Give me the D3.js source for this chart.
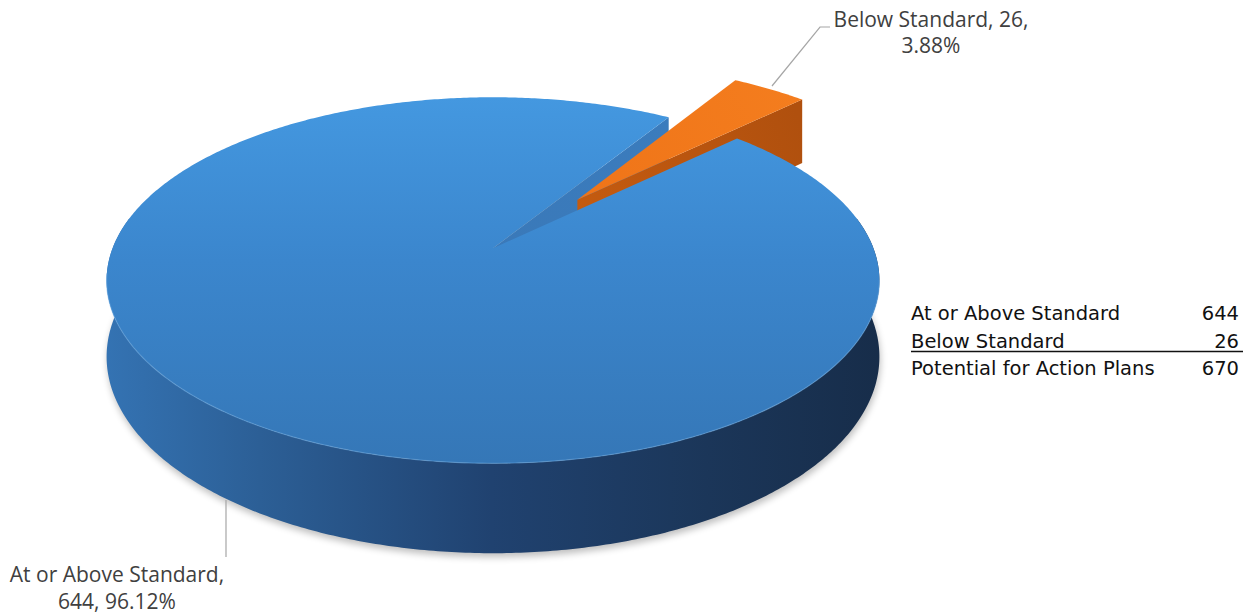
<!DOCTYPE html>
<html>
<head>
<meta charset="utf-8">
<script src="https://cdn.jsdelivr.net/npm/d3@7"></script>
<style>
  html, body { margin: 0; padding: 0; background: #ffffff; }
  svg { display: block; }
</style>
</head>
<body>
<svg id="chart" width="1255" height="615"></svg>
<script>
// Action plan status: two slices of a 3-D pie
const categories = ["At or Above Standard", "Below Standard"];
const values = [644, 26];
const totalLabel = "Potential for Action Plans";
const explodedSlices = [false, true];

const total = d3.sum(values);
const pctFmt = d3.format(".2%");

const svg = d3.select("#chart");
const defs = svg.append("defs");

// ---- perspective view of a unit disc (x right, y up, z toward viewer) ----
// Camera looks horizontally from above the disc, so the walls stay vertical.
const view = {
  cx: 493,          // screen x of the disc axis
  horizon: -766,    // screen y of the horizon line
  focal: 2175,      // focal length in pixels
  dist: 5.717,      // camera distance in disc radii
  height: 2.666,    // camera height above the top face
  depth: 0.195      // thickness of the pie
};
function project(x, y, z) {
  const d = view.dist - z;
  return [view.cx + view.focal * x / d, view.horizon + view.focal * (view.height - y) / d];
}

// radial scale for the disc (radius 0..1)
const radius = d3.scaleLinear().domain([0, 1]).range([0, 1]);
const explode = 0.37;

const pie = d3.pie()
  .sort(null)
  .value(d => d)
  .startAngle(46 * Math.PI / 180)
  .endAngle(46 * Math.PI / 180 + 2 * Math.PI);
const arcs = pie(values);

const line = d3.line();

function discPoint(theta, r, y, off) {
  const rr = radius(r);
  return project(rr * Math.sin(theta) + off[0], y, -rr * Math.cos(theta) + off[1]);
}
function arcPoints(a, b, y, off, n) {
  const pts = [];
  const steps = n || Math.max(8, Math.ceil(Math.abs(b - a) / 0.01));
  for (let i = 0; i <= steps; i++) pts.push(discPoint(a + (b - a) * i / steps, 1, y, off));
  return pts;
}
function offsetFor(arc, i) {
  if (!explodedSlices[i]) return [0, 0];
  const mid = (arc.startAngle + arc.endAngle) / 2;
  return [explode * Math.sin(mid), -explode * Math.cos(mid)];
}

// ---- gradients ----
function linGrad(id, x1, y1, x2, y2, stops) {
  const g = defs.append("linearGradient").attr("id", id)
    .attr("gradientUnits", "userSpaceOnUse")
    .attr("x1", x1).attr("y1", y1).attr("x2", x2).attr("y2", y2);
  stops.forEach(s => g.append("stop").attr("offset", s[0]).attr("stop-color", s[1]));
}
linGrad("blueTop", 0, 97, 0, 463, [[0, "#4498e0"], [0.45, "#3b86cd"], [1, "#3577b7"]]);
linGrad("blueSide", 105, 0, 878, 0, [[0, "#3473b3"], [0.2, "#2c5f96"], [0.5, "#204270"], [0.78, "#1b3659"], [1, "#172d4a"]]);
linGrad("blueCut", 497, 248, 670, 117, [[0, "#3a79b9"], [1, "#3b7cbd"]]);
linGrad("orangeTop", 577, 207, 800, 90, [[0, "#ef7418"], [1, "#f47d1e"]]);
linGrad("orangeCut", 577, 207, 803, 130, [[0, "#c45b10"], [1, "#b0500e"]]);

const blur = defs.append("filter").attr("id", "soft")
  .attr("x", "-10%").attr("y", "-10%").attr("width", "120%").attr("height", "130%");
blur.append("feGaussianBlur").attr("stdDeviation", 3.5);

const blueArc = arcs[0], orangeArc = arcs[1];
const blueOff = offsetFor(blueArc, 0), orangeOff = offsetFor(orangeArc, 1);
const h = -view.depth;

// soft shadow under the pie
svg.append("path")
  .attr("d", line(arcPoints(0, 2 * Math.PI, h, [0, 0], 360)) + "Z")
  .attr("transform", "translate(1,4)")
  .attr("fill", "#000").attr("opacity", 0.25)
  .attr("filter", "url(#soft)");

// outer wall of the large slice (front part; the back is hidden by the top)
{
  const a = Math.max(blueArc.startAngle, 80 * Math.PI / 180);
  const b = Math.min(blueArc.endAngle, 280 * Math.PI / 180);
  const pts = arcPoints(a, b, 0, blueOff).concat(arcPoints(b, a, h, blueOff));
  svg.append("path").attr("d", line(pts) + "Z").attr("fill", "url(#blueSide)");
}

// radial cut face of a slice at angle theta
function cutFace(theta, off) {
  return [
    discPoint(theta, 0, 0, off), discPoint(theta, 1, 0, off),
    discPoint(theta, 1, h, off), discPoint(theta, 0, h, off)
  ];
}
svg.append("path").attr("d", line(cutFace(blueArc.endAngle, blueOff)) + "Z")
  .attr("fill", "url(#blueCut)");

// exploded small slice
svg.append("path").attr("d", line(cutFace(orangeArc.endAngle, orangeOff)) + "Z")
  .attr("fill", "url(#orangeCut)");
svg.append("path")
  .attr("d", line([discPoint(0, 0, 0, orangeOff)].concat(arcPoints(orangeArc.startAngle, orangeArc.endAngle, 0, orangeOff))) + "Z")
  .attr("fill", "url(#orangeTop)");

// top of the large slice
svg.append("path")
  .attr("d", line([discPoint(0, 0, 0, blueOff)].concat(arcPoints(blueArc.startAngle, blueArc.endAngle, 0, blueOff))) + "Z")
  .attr("fill", "url(#blueTop)");

// light bevel along the front rim
svg.append("path")
  .attr("d", line(arcPoints(100 * Math.PI / 180, 262 * Math.PI / 180, 0, blueOff)))
  .attr("fill", "none").attr("stroke", "#6aa9e3").attr("stroke-width", 1.2).attr("opacity", 0.5);

// ---- data labels with leader lines ----
const labelColor = "#404040";
const leader = "#a6a6a6";
function dataLabel(lines, x, y1, y2) {
  const g = svg.append("g").attr("font-family", "'Open Sans', Lato, sans-serif")
    .attr("font-size", 21).attr("fill", labelColor).attr("text-anchor", "middle");
  g.append("text").attr("x", x).attr("y", y1).text(lines[0]);
  g.append("text").attr("x", x).attr("y", y2).text(lines[1]);
}
svg.append("polyline").attr("points", "772,86 820,27 830,27")
  .attr("fill", "none").attr("stroke", leader).attr("stroke-width", 1.2);
dataLabel([`${categories[1]}, ${values[1]},`, pctFmt(values[1] / total)], 931, 26.5, 53);
svg.append("line").attr("x1", 226).attr("y1", 500).attr("x2", 226).attr("y2", 557)
  .attr("stroke", leader).attr("stroke-width", 1.2);
dataLabel([`${categories[0]},`, `${values[0]}, ${pctFmt(values[0] / total)}`], 117, 582, 609);

// ---- summary table ----
const rows = [
  { name: categories[0], value: values[0] },
  { name: categories[1], value: values[1] },
  { name: totalLabel, value: total }
];
const table = svg.append("g").attr("font-family", "'DejaVu Sans', sans-serif")
  .attr("font-size", 19.5).attr("fill", "#111");
const rowY = d3.scalePoint().domain(rows.map(r => r.name)).range([320, 375]);
rows.forEach(r => {
  table.append("text").attr("x", 911).attr("y", rowY(r.name)).text(r.name);
  table.append("text").attr("x", 1239).attr("y", rowY(r.name)).attr("text-anchor", "end").text(r.value);
});
table.append("line").attr("x1", 911).attr("x2", 1243)
  .attr("y1", rowY(categories[1]) + 4).attr("y2", rowY(categories[1]) + 4)
  .attr("stroke", "#111").attr("stroke-width", 1.3);
</script>
</body>
</html>
